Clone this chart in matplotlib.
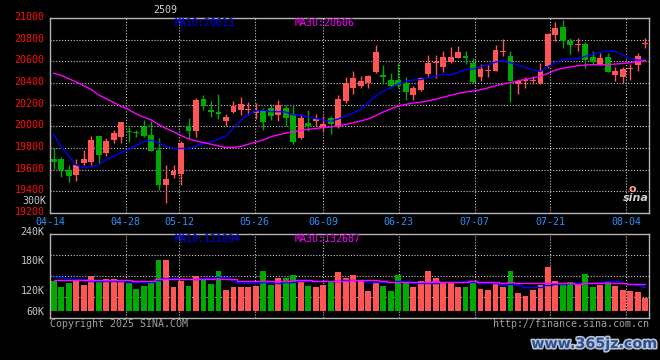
import numpy as np
import pandas as pd
import matplotlib
matplotlib.use('Agg')
import matplotlib.pyplot as plt
import matplotlib.patheffects as pe
from matplotlib.transforms import ScaledTranslation

# daily K line, contract 2509, 2025-04-14 .. 2025-08-07
tick_idx = [0, 10, 17, 27, 36, 46, 56, 66, 76]
tick_labels = ['04-14', '04-28', '05-12', '05-26', '06-09', '06-23', '07-07', '07-21', '08-04']

opens = [19700, 19695, 19598, 19550, 19665, 19675, 19909, 19757, 19872, 19900,
         19955, 19950, 20000, 19924, 19780, 19455, 19550, 19556, 20005, 19955,
         20252, 20154, 20130, 20046, 20136, 20148, 20150, 20125, 20155, 20170,
         20108, 20170, 20117, 19894, 20032, 20046, 19985, 20078, 19995, 20230,
         20354, 20368, 20400, 20506, 20470, 20430, 20430, 20400, 20292, 20338,
         20485, 20583, 20552, 20598, 20635, 20645, 20589, 20460, 20510, 20515,
         20690, 20645, 20393, 20414, 20420, 20400, 20561, 20844, 20921, 20788,
         20755, 20761, 20644, 20577, 20644, 20476, 20460, 20531, 20568, 20758]
highs = [19800, 19720, 19646, 19700, 19780, 19910, 19910, 19895, 19970, 20040,
         19990, 19970, 20062, 20047, 19895, 19640, 19640, 19862, 20080, 20262,
         20292, 20230, 20300, 20117, 20230, 20271, 20221, 20220, 20170, 20210,
         20246, 20200, 20200, 20117, 20148, 20117, 20099, 20099, 20292, 20460,
         20512, 20467, 20476, 20752, 20568, 20491, 20583, 20455, 20375, 20455,
         20660, 20660, 20700, 20731, 20743, 20700, 20629, 20577, 20577, 20752,
         20807, 20697, 20420, 20455, 20467, 20589, 20859, 20966, 20982, 20819,
         20813, 20782, 20697, 20675, 20675, 20552, 20552, 20574, 20675, 20813]
lows = [19610, 19530, 19487, 19500, 19640, 19640, 19650, 19725, 19848, 19848,
        19853, 19905, 19900, 19770, 19412, 19295, 19520, 19455, 19880, 19905,
        20150, 20087, 20068, 20000, 20124, 20108, 20108, 20065, 19965, 20062,
        20046, 20000, 19841, 19885, 19955, 20007, 19955, 19925, 19986, 20216,
        20301, 20354, 20354, 20491, 20393, 20354, 20354, 20246, 20240, 20322,
        20467, 20445, 20506, 20589, 20630, 20577, 20393, 20423, 20455, 20515,
        20650, 20221, 20301, 20354, 20393, 20393, 20540, 20788, 20727, 20666,
        20697, 20543, 20568, 20568, 20500, 20421, 20400, 20430, 20513, 20721]
closes = [19675, 19600, 19543, 19645, 19695, 19870, 19740, 19860, 19940, 20037,
          19945, 19943, 19910, 19775, 19455, 19510, 19590, 19848, 19955, 20246,
          20184, 20130, 20117, 20083, 20191, 20209, 20155, 20145, 20040, 20093,
          20200, 20080, 19853, 20078, 20007, 20068, 20025, 20025, 20252, 20400,
          20446, 20414, 20467, 20685, 20460, 20368, 20368, 20313, 20354, 20446,
          20589, 20590, 20639, 20639, 20685, 20630, 20405, 20528, 20522, 20706,
          20697, 20414, 20414, 20439, 20427, 20515, 20850, 20905, 20788, 20752,
          20761, 20614, 20598, 20635, 20506, 20513, 20531, 20543, 20650, 20767]
# volume, thousands of lots
volumes = [129, 117, 125, 129, 120, 141, 129, 134.6, 134.6, 133,
           125, 112.5, 119.5, 125, 180, 180, 115, 129, 119.5, 141,
           138, 123.5, 152.5, 109.4, 115, 117, 117, 119.5, 152.5, 121,
           138, 138, 144.7, 130.6, 118.8, 115, 121, 126.6, 151, 138,
           144.7, 133, 107, 125, 118.8, 107, 143, 125, 115, 130.6,
           154, 138, 127.5, 127.5, 115, 115, 127.5, 111.8, 109.4, 122.8,
           115, 154, 103, 96, 109.4, 121, 162, 130.6, 125, 127.5,
           125, 147, 117, 121, 127.5, 118.8, 109.4, 107, 104.7, 91.3]

# moving averages before enough bars are on screen
ma10_head = [19924, 19809, 19725, 19645, 19615, 19630, 19644, 19694, 19725]
ma30_head = [20490, 20470, 20440, 20410, 20375, 20340, 20290, 20255, 20220, 20185,
             20155, 20115, 20085, 20060, 20015, 19980, 19950, 19915, 19885, 19865,
             19850, 19835, 19820, 19805, 19805, 19815, 19835, 19855, 19875]
vol_ma10_head = [139, 139, 137, 135, 134.6, 130.6, 129, 129, 129]
vol_ma30_head = [133, 133, 133, 133, 133, 133, 133, 133, 133, 133,
                 133, 131, 131, 131, 135, 135, 135, 135, 135, 135,
                 135, 135, 135, 135, 135, 130, 130, 130, 130]

price_ticks = [19200, 19400, 19600, 19800, 20000, 20200, 20400, 20600, 20800, 21000]
vol_ticks = [240, 180, 120, 60]
vol_tick_labels = ['240K', '180K', '120K', '60K']

RED = '#ff5555'
GREEN = '#00aa00'
GRID = '#c8c8c8'
BORDER = '#b4b4b4'
DOT = (0, (1, 1.6))

plt.rcParams['font.family'] = ['DejaVu Sans Mono']
W, H = 660, 360


def fx(px):
    return px / W


def fy(py):
    return 1 - py / H


def nudge(label, dy_px):
    # move a tick label up by dy_px screen pixels
    label.set_transform(label.get_transform() + ScaledTranslation(0, dy_px / 100, fig.dpi_scale_trans))


o = np.array(opens, float); c = np.array(closes, float)
hi = np.array(highs, float); lo = np.array(lows, float)
vol = np.array(volumes, float)
n = len(c)
x = np.arange(n)
up = c >= o
cols = np.where(up, RED, GREEN)

ma10 = pd.Series(c).rolling(10).mean().to_numpy(); ma10[:9] = ma10_head
ma30 = pd.Series(c).rolling(30).mean().to_numpy(); ma30[:29] = ma30_head
vma10 = pd.Series(vol).rolling(10).mean().to_numpy(); vma10[:9] = vol_ma10_head
vma30 = pd.Series(vol).rolling(30).mean().to_numpy(); vma30[:29] = vol_ma30_head

# grid of dates is spread over n-1 steps, bars over n slots
grid_x = -0.5 + np.array(tick_idx) * n / (n - 1)

fig = plt.figure(figsize=(6.6, 3.6), dpi=100, facecolor='black')

# ---- price panel
ax = fig.add_axes([fx(50), fy(213), fx(599), 195 / H])
ax.set_facecolor('black')
ax.set_xlim(-0.5, n - 0.5)
ax.set_ylim(price_ticks[0], price_ticks[-1])
ax.set_axisbelow(True)
ax.set_yticks(price_ticks)
ax.set_xticks(grid_x)
ax.set_xticklabels(tick_labels)
ax.grid(True, color=GRID, linestyle=DOT, lw=0.8)
ax.tick_params(axis='y', length=0, pad=4, labelcolor='#ff1010', labelsize=7.2)
ax.tick_params(axis='x', length=0, pad=3, labelcolor='#2a90ff', labelsize=7.2)
for s in ax.spines.values():
    s.set_color(BORDER); s.set_linewidth(1)
for lbl in ax.get_yticklabels():
    nudge(lbl, 2)

ax.vlines(x, lo, hi, colors=cols, lw=1, zorder=2)
body = np.maximum(np.abs(c - o), 8)
ax.bar(x, body, bottom=np.minimum(o, c), width=0.78, color=cols, lw=0, zorder=3)
ax.plot(x, ma10, color='#0000ff', lw=1, zorder=4)
ax.plot(x, ma30, color='#ff00ff', lw=1, zorder=4)

# ---- volume panel
vol_base = 60
vax = fig.add_axes([fx(50), fy(318), fx(599), 84 / H])
vax.set_facecolor('black')
vax.set_xlim(-0.5, n - 0.5)
vax.set_ylim(43.5, 240)
vax.set_axisbelow(True)
vax.set_yticks(vol_ticks)
vax.set_yticklabels(vol_tick_labels)
vax.set_xticks(grid_x)
vax.set_xticklabels([])
vax.grid(True, axis='x', color=GRID, linestyle=DOT, lw=0.8)
y0, y1 = vax.get_ylim()
for f in (0.25, 0.5, 0.75):
    vax.axhline(y0 + f * (y1 - y0), color=GRID, linestyle=DOT, lw=0.8, zorder=0)
vax.tick_params(axis='y', length=0, pad=4, labelcolor='#c8c8c8', labelsize=7.2)
vax.tick_params(axis='x', length=0)
for s in vax.spines.values():
    s.set_color(BORDER); s.set_linewidth(1)
for lbl, dy in zip(vax.get_yticklabels(), [3, 0, -5, 0]):
    nudge(lbl, dy)

vax.bar(x, vol - vol_base, bottom=vol_base, width=0.78, color=cols, lw=0, zorder=2)
vax.plot(x, vma10, color='#0000ff', lw=1, drawstyle='steps-mid', zorder=3)
vax.plot(x, vma30, color='#ff00ff', lw=1, drawstyle='steps-mid', zorder=3)

# ---- texts
fs = 7.2
fig.text(fx(165), fy(10), '2509', ha='center', va='center', color='#d0d0d0', fontsize=fs)
fig.text(fx(175), fy(23), 'MA10:20613', va='center', color='#0000ff', fontsize=fs)
fig.text(fx(295), fy(23), 'MA30:20606', va='center', color='#ff00ff', fontsize=fs)
fig.text(fx(175), fy(239), 'MA10:121094', va='center', color='#0000ff', fontsize=fs)
fig.text(fx(295), fy(239), 'MA30:132687', va='center', color='#ff00ff', fontsize=fs)
fig.text(fx(46), fy(201), '300K', ha='right', va='center', color='#c8c8c8', fontsize=fs)
fig.text(fx(50), fy(324), 'Copyright 2025 SINA.COM', va='center', color='#a0a0a0', fontsize=fs)
fig.text(fx(649), fy(324), 'http://finance.sina.com.cn', ha='right', va='center',
         color='#a0a0a0', fontsize=fs)

# sina logo
fig.text(fx(636), fy(198), 'sina', ha='center', va='center', color='#d0d0d0',
         fontsize=8, fontweight='bold', style='italic', family='DejaVu Sans')
fig.text(fx(632), fy(189), 'o', ha='center', va='center', color='#ff9a9a',
         fontsize=8, fontweight='bold', family='DejaVu Sans')

# watermark
fig.text(fx(594), fy(344), 'www.365jz.com', ha='center', va='center', color='#2e4f8f',
         fontsize=10.3, fontweight='bold', family='DejaVu Sans',
         path_effects=[pe.withStroke(linewidth=2.2, foreground='#b8c4d8')])

fig.savefig('out.png', dpi=100, facecolor='black')
